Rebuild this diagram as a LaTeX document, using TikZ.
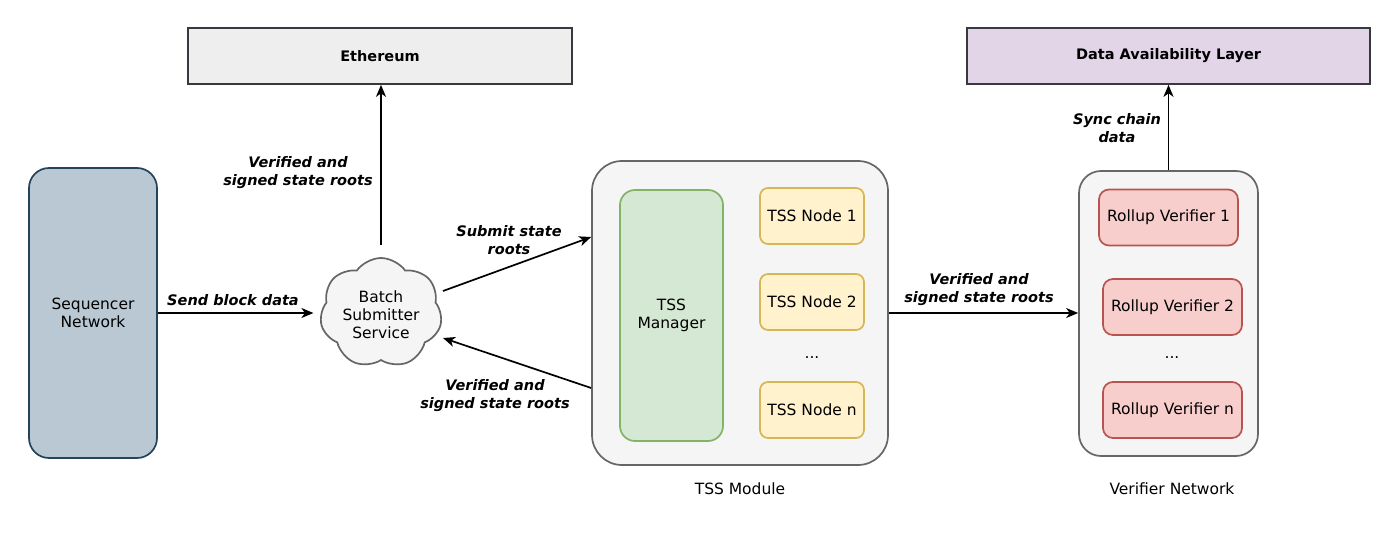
\documentclass[tikz,border=0pt]{standalone}
\usepackage{fontspec}
\setmainfont{DejaVu Sans}
\usetikzlibrary{shapes.symbols,arrows.meta}
\definecolor{ethfill}{HTML}{EEEEEE}
\definecolor{boxline}{HTML}{36393D}
\definecolor{dafill}{HTML}{E1D5E7}
\definecolor{seqfill}{HTML}{BAC8D3}
\definecolor{seqline}{HTML}{23445D}
\definecolor{grayfill}{HTML}{F5F5F5}
\definecolor{grayline}{HTML}{666666}
\definecolor{mgrfill}{HTML}{D5E8D4}
\definecolor{mgrline}{HTML}{82B366}
\definecolor{nodefill}{HTML}{FFF2CC}
\definecolor{nodeline}{HTML}{D6B656}
\definecolor{rvfill}{HTML}{F8CECC}
\definecolor{rvline}{HTML}{B85450}
\tikzset{
  basebox/.style={draw, line width=1.7pt, inner sep=0pt, align=center},
  topbox/.style={basebox, draw=boxline, font=\fontsize{14.5}{18}\selectfont\bfseries},
  container/.style={basebox, fill=grayfill, draw=grayline},
  tssnode/.style={basebox, fill=nodefill, draw=nodeline, rounded corners=8pt, minimum width=104pt, minimum height=56pt},
  rvnode/.style={basebox, fill=rvfill, draw=rvline, rounded corners=10pt, minimum width=139pt, minimum height=56pt},
  lbl/.style={align=center, inner sep=0pt, font=\fontsize{14.5}{18}\selectfont\bfseries\itshape},
  plain/.style={align=center, inner sep=0pt},
  arr/.style={line width=1.7pt, -{Stealth[length=12pt,width=10pt,inset=3.5pt]}}
}
\begin{document}
\begin{tikzpicture}[x=1pt,y=-1pt, font=\fontsize{15.5}{18}\selectfont]
\useasboundingbox (0,0) rectangle (1400,540);
% top boxes
\node[topbox, fill=ethfill, minimum width=384pt, minimum height=56pt] (eth) at (380,56) {Ethereum};
\node[topbox, fill=dafill, minimum width=403pt, minimum height=56pt] (da) at (1168.5,56) {Data Availability Layer};
% sequencer
\node[basebox, fill=seqfill, draw=seqline, rounded corners=20pt, minimum width=128pt, minimum height=290pt] (seq) at (93,313) {Sequencer\\Network};
% cloud
\node[cloud, cloud puffs=7, cloud puff arc=110, draw=grayline, fill=grayfill, line width=1.7pt, minimum width=122pt, minimum height=110pt, inner sep=0pt] (bss) at (381,313) {};
\node[plain] (bsstext) at (381,315) {Batch\\Submitter\\Service};
% TSS module
\node[container, rounded corners=30pt, minimum width=296pt, minimum height=304pt] (tss) at (740,313) {};
\node[plain] (tsslabel) at (740,489) {TSS Module};
\node[basebox, fill=mgrfill, draw=mgrline, rounded corners=15pt, minimum width=103pt, minimum height=251pt] (mgr) at (671.5,315.5) {TSS\\Manager};
\node[tssnode] (n1) at (812,216) {TSS Node 1};
\node[tssnode] (n2) at (812,302) {TSS Node 2};
\node[plain] (ndots) at (812,358) {...};
\node[tssnode] (nn) at (812,410) {TSS Node n};
% verifier network
\node[container, rounded corners=22pt, minimum width=179pt, minimum height=285pt] (vn) at (1168.5,313.5) {};
\node[plain] (vnlabel) at (1172,489) {Verifier Network};
\node[rvnode] (rv1) at (1168.5,217.5) {Rollup Verifier 1};
\node[rvnode] (rv2) at (1172.5,307) {Rollup Verifier 2};
\node[plain] (rvdots) at (1172,358) {...};
\node[rvnode] (rvn) at (1172.5,410) {Rollup Verifier n};
% connectors
\draw[arr] (seq.east) -- ([xshift=-7pt]seq.east -| bss.west);
\node[lbl] (l1) at (233,300) {Send block data};
\draw[arr] ([yshift=12pt]bss.north) -- (bss.north |- eth.south);
\node[lbl] (l2) at (298,173) {Verified and\\signed state roots};
\draw[arr] ([xshift=62pt,yshift=22pt]bss.center) -- ([yshift=76pt]tss.west);
\node[lbl] (l3) at (509,240) {Submit state\\roots};
\draw[arr] ([yshift=-75pt]tss.west) -- ([xshift=62pt,yshift=-25pt]bss.center);
\node[lbl] (l4) at (495,396) {Verified and\\signed state roots};
\draw[arr] (tss.east) -- (tss.east -| vn.west);
\node[lbl] (l5) at (979,290) {Verified and\\signed state roots};
\draw[arr] (vn.north) -- (vn.north |- da.south);
\node[lbl] (l6) at (1117,128) {Sync chain\\data};
\end{tikzpicture}
\end{document}
